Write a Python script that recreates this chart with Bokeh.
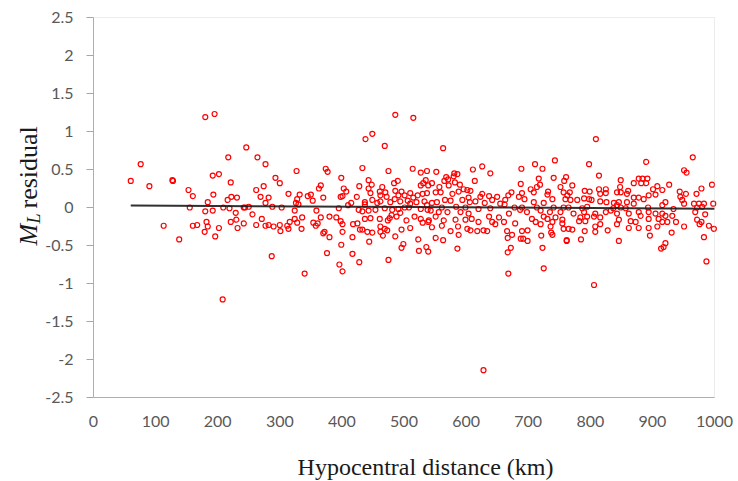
import math
from bokeh.plotting import figure
from bokeh.models import Range1d, FixedTicker, BoxAnnotation
from bokeh.core.properties import value
from bokeh.embed import file_html
from bokeh.resources import INLINE

# ---------------- data ----------------
distance_km = [
    # 60-210 km
    180, 195, 76, 60, 90, 127, 128, 192, 202, 153, 160, 193, 184, 155, 180, 192, 113, 160, 167, 182,
    184, 202, 179, 196, 138, 208,
    # 205-395 km
    246, 217, 264, 277, 221, 216, 222, 231, 262, 274, 293, 300, 269, 282, 277, 327, 314, 332, 328, 326,
    330, 345, 350, 353, 363, 366, 370, 374, 377, 209, 219, 242, 244, 250, 229, 256, 288, 303, 324, 359,
    395, 221, 230, 232, 242, 262, 271, 277, 282, 290, 300, 301, 312, 314, 316, 324, 328, 335, 336, 354,
    358, 361, 366, 370, 372, 380, 380, 391, 287, 340, 376, 396,
    # 380-590 km outliers
    486, 515, 438, 449, 469, 563, 433, 399, 475, 514, 537, 552, 527,
    401, 428, 417, 475, 399, 444, 417, 496, 499, 524, 536, 539, 523, 551, 563, 586, 486, 466, 401,
    # 395-540 km band
    443, 448, 403, 407, 428, 465, 484, 490, 531, 535, 527, 398, 401, 424, 443, 446, 461, 462, 470, 472,
    486, 491, 496, 501, 510, 515, 522, 530, 537, 415, 410, 437, 437, 449, 457, 462, 478, 485, 494, 506,
    510, 520, 533, 427, 433, 443, 454, 469, 481, 491, 501, 508, 527, 538, 398, 401, 437, 446, 461, 474,
    477, 480, 488, 494, 504, 517, 527, 530, 539, 418, 425, 429, 433, 441, 449, 462, 462, 469, 473, 496,
    510,
    # 535-690 km
    626, 611, 639, 689, 586, 580, 568, 571, 565, 614, 582, 545, 539, 557, 572, 590, 602, 596, 588, 607,
    551, 559, 578, 688, 690, 685, 673, 668, 637, 626, 623, 650, 663, 642, 630, 655, 662, 566, 575, 594,
    604, 606, 615, 553, 545, 537, 561, 584, 599, 620, 639, 678, 690, 687, 543, 556, 570, 591, 604, 637,
    653, 669, 551, 540, 564, 583, 599, 609, 620, 642, 661, 647, 679, 561, 545, 575, 587, 602, 607, 618,
    628, 634, 666, 674, 690, 588, 667, 688, 667, 672, 668, 628, 581,
    # 690-850 km
    711, 723, 743, 798, 814, 741, 761, 758, 771, 752, 717, 719, 714, 704, 709, 732, 731, 757, 763, 767,
    760, 768, 791, 799, 814, 825, 816, 825, 843, 848, 790, 798, 802, 779, 739, 694, 709, 725, 816, 826,
    838, 843, 714, 741, 757, 765, 787, 795, 837, 698, 720, 735, 752, 773, 790, 808, 825, 833, 706, 725,
    731, 744, 755, 784, 795, 806, 816, 712, 739, 755, 782, 792, 816, 808, 846, 720, 736, 757, 765, 771,
    828, 699, 737, 739, 791, 808, 692, 699, 721, 762, 762, 785, 846, 723, 725, 809, 806,
    # 840-1000 km
    890, 951, 955, 849, 870, 878, 884, 892, 882, 890, 908, 927, 996, 849, 861, 901, 916, 944, 954, 971,
    979, 859, 894, 905, 945, 870, 878, 886, 948, 859, 846, 921, 916, 951, 967, 975, 983, 998, 870, 893,
    857, 972, 980, 849, 934, 862, 878, 894, 905, 916, 921, 881, 932, 969, 985, 843, 865, 873, 894, 910,
    916, 924, 938, 972, 979, 976, 991, 999, 843, 862, 878, 894, 908, 951, 931, 896, 983, 921, 918, 914,
    987, 965,
]

residual = [
    # 60-210 km
    1.19, 1.23, 0.57, 0.35, 0.28, 0.36, 0.35, 0.42, 0.44, 0.23, 0.15, 0.17, 0.07, 0.00, -0.05, -0.04, -0.24, -0.24, -0.23, -0.19,
    -0.25, -0.27, -0.32, -0.38, -0.42, -1.21,
    # 205-395 km
    0.79, 0.66, 0.66, 0.57, 0.33, 0.10, 0.14, 0.13, 0.23, 0.28, 0.39, 0.32, 0.14, 0.13, 0.06, 0.48, 0.18, 0.17, 0.11, 0.06,
    0.04, 0.15, 0.17, 0.09, 0.25, 0.29, 0.13, 0.51, 0.47, 0.00, -0.01, 0.00, 0.00, 0.01, -0.07, -0.09, 0.01, 0.00, -0.04, -0.04,
    -0.01, -0.19, -0.16, -0.27, -0.21, -0.23, -0.15, -0.24, -0.23, -0.25, -0.23, -0.31, -0.24, -0.28, -0.19, -0.15, -0.20, -0.28, -0.13, -0.20,
    -0.24, -0.21, -0.13, -0.34, -0.32, -0.39, -0.12, -0.13, -0.64, -0.87, -0.60, -0.75,
    # 380-590 km outliers
    1.22, 1.18, 0.90, 0.97, 0.81, 0.78, 0.52, 0.39, 0.48, 0.51, 0.48, 0.47, 0.46,
    -0.84, -0.72, -0.61, -0.69, -0.49, -0.45, -0.39, -0.53, -0.48, -0.57, -0.52, -0.58, -0.42, -0.40, -0.43, -0.54, -0.38, -0.37, -0.32,
    # 395-540 km band
    0.36, 0.30, 0.25, 0.21, 0.28, 0.27, 0.32, 0.35, 0.32, 0.36, 0.29, 0.14, 0.15, 0.14, 0.25, 0.19, 0.21, 0.16, 0.20, 0.14,
    0.22, 0.16, 0.21, 0.16, 0.19, 0.13, 0.16, 0.18, 0.19, 0.06, 0.03, 0.07, 0.04, 0.10, 0.06, 0.08, 0.07, 0.11, 0.08, 0.09,
    0.05, 0.07, 0.08, -0.03, -0.05, -0.04, -0.03, -0.01, -0.03, -0.02, 0.00, 0.00, -0.02, -0.03, -0.18, -0.22, -0.15, -0.14, -0.15, -0.17,
    -0.14, -0.10, -0.12, -0.07, -0.17, -0.12, -0.15, -0.20, -0.19, -0.22, -0.21, -0.29, -0.29, -0.32, -0.33, -0.25, -0.32, -0.28, -0.30, -0.29,
    -0.27,
    # 535-690 km
    0.54, 0.50, 0.45, 0.51, 0.44, 0.41, 0.40, 0.37, 0.35, 0.35, 0.33, 0.32, 0.29, 0.27, 0.29, 0.30, 0.23, 0.24, 0.21, 0.22,
    0.20, 0.20, 0.18, 0.31, 0.19, 0.14, 0.20, 0.16, 0.15, 0.18, 0.14, 0.14, 0.10, 0.10, 0.06, 0.05, 0.04, 0.10, 0.09, 0.10,
    0.13, 0.07, 0.08, 0.07, 0.06, 0.03, 0.00, 0.01, 0.00, -0.02, -0.01, 0.00, 0.00, -0.03, -0.04, -0.06, -0.06, -0.06, -0.08, -0.12,
    -0.13, -0.08, -0.12, -0.17, -0.17, -0.16, -0.16, -0.15, -0.19, -0.19, -0.19, -0.22, -0.21, -0.24, -0.26, -0.31, -0.25, -0.28, -0.30, -0.31,
    -0.30, -0.31, -0.31, -0.36, -0.31, -0.36, -0.40, -0.41, -0.59, -0.53, -0.87, -2.14, 0.45,
    # 690-850 km
    0.57, 0.51, 0.62, 0.57, 0.42, 0.39, 0.40, 0.35, 0.29, 0.27, 0.38, 0.30, 0.27, 0.24, 0.20, 0.21, 0.17, 0.20, 0.16, 0.20,
    0.11, 0.10, 0.22, 0.21, 0.24, 0.24, 0.18, 0.19, 0.20, 0.27, 0.12, 0.11, 0.10, 0.10, 0.11, 0.11, 0.07, 0.06, 0.08, 0.07,
    0.06, 0.03, 0.00, 0.00, 0.00, 0.00, -0.01, 0.01, -0.01, -0.06, -0.04, -0.06, -0.06, -0.08, -0.06, -0.08, -0.06, -0.04, -0.15, -0.12,
    -0.15, -0.13, -0.16, -0.13, -0.12, -0.12, -0.13, -0.19, -0.19, -0.21, -0.18, -0.18, -0.22, -0.25, -0.16, -0.22, -0.25, -0.28, -0.28, -0.29,
    -0.30, -0.30, -0.33, -0.36, -0.31, -0.32, -0.41, -0.44, -0.37, -0.43, -0.44, -0.42, -0.44, -0.53, -0.80, 0.90, -1.02,
    # 840-1000 km
    0.60, 0.49, 0.46, 0.36, 0.32, 0.38, 0.38, 0.38, 0.32, 0.32, 0.28, 0.30, 0.30, 0.20, 0.22, 0.24, 0.23, 0.21, 0.18, 0.18,
    0.25, 0.18, 0.16, 0.17, 0.14, 0.13, 0.13, 0.11, 0.10, 0.07, 0.07, 0.07, 0.03, 0.05, 0.05, 0.05, 0.05, 0.05, 0.05, 0.00,
    -0.01, 0.00, 0.01, 0.00, -0.02, -0.08, -0.06, -0.06, -0.08, -0.08, -0.11, -0.11, -0.11, -0.06, -0.09, -0.08, -0.18, -0.19, -0.15, -0.15,
    -0.19, -0.19, -0.19, -0.16, -0.19, -0.22, -0.24, -0.28, -0.22, -0.27, -0.27, -0.27, -0.25, -0.25, -0.33, -0.37, -0.39, -0.47, -0.52, -0.54,
    -0.71, 0.66,
]

trend_x = [60, 1000]
trend_y = [0.025, -0.015]

x_ticks = [0, 100, 200, 300, 400, 500, 600, 700, 800, 900, 1000]
x_tick_labels = ["0", "100", "200", "300", "400", "500", "600", "700", "800", "900", "1000"]
y_ticks = [-2.5, -2, -1.5, -1, -0.5, 0, 0.5, 1, 1.5, 2, 2.5]
y_tick_labels = ["-2.5", "-2", "-1.5", "-1", "-0.5", "0", "0.5", "1", "1.5", "2", "2.5"]

x_title = "Hypocentral distance (km)"
y_title_main = "M"
y_title_sub = "L"
y_title_rest = "residual"

n = min(len(distance_km), len(residual))
distance_km = distance_km[:n]
residual = residual[:n]

# ---------------- pixel layout of the plot area ----------------
W, H = 738, 481
X_MIN, X_MAX = x_ticks[0], x_ticks[-1]
Y_MIN, Y_MAX = y_ticks[0], y_ticks[-1]
AREA_L, AREA_R, AREA_T, AREA_B = 93, 714, 17, 397          # plot-area box in pixels
kx = (AREA_R - AREA_L) / (X_MAX - X_MIN)                   # px per km
ky = (AREA_B - AREA_T) / (Y_MAX - Y_MIN)                   # px per unit


def px_to_x(px):
    return X_MIN + (px - AREA_L) / kx


def py_to_y(py):
    return Y_MAX - (py - AREA_T) / ky


p = figure(width=W, height=H, output_backend="svg", toolbar_location=None,
           x_range=Range1d(px_to_x(0), px_to_x(W)), y_range=Range1d(py_to_y(H), py_to_y(0)),
           min_border=0)
p.xgrid.visible = False
p.ygrid.visible = False
p.outline_line_color = None
p.background_fill_color = "white"
p.border_fill_color = "white"

# plot-area box
p.add_layout(BoxAnnotation(left=X_MIN, right=X_MAX, bottom=Y_MIN, top=Y_MAX,
                           fill_alpha=0, line_color="#bfbfbf", line_width=1))

p.scatter(distance_km, residual, marker="circle", size=5, fill_color=None,
          line_color="#ff0000", line_width=1.2)
p.line(trend_x, trend_y, line_color="#1a1a1a", line_width=2, line_alpha=0.9)

tick_font = "Lato"
p.xaxis[0].fixed_location = Y_MIN
p.xaxis[0].bounds = (X_MIN, X_MAX)
p.yaxis[0].fixed_location = X_MIN
p.yaxis[0].bounds = (Y_MIN, Y_MAX)
for ax, ticks, labels in ((p.xaxis[0], x_ticks, x_tick_labels), (p.yaxis[0], y_ticks, y_tick_labels)):
    ax.ticker = FixedTicker(ticks=ticks)
    ax.major_label_overrides = {t: l for t, l in zip(ticks, labels)}
    ax.minor_tick_line_color = None
    ax.axis_line_color = "#a6a6a6"
    ax.major_tick_line_color = "#a6a6a6"
    ax.major_tick_in = 0
    ax.major_label_text_font = tick_font
    ax.major_label_text_font_size = "16px"
    ax.major_label_text_color = "#595959"

p.xaxis[0].major_tick_out = 0
p.xaxis[0].major_label_standoff = 18
p.yaxis[0].major_tick_out = 7
p.yaxis[0].major_label_standoff = 13

# ---------------- axis titles ----------------
title_color = "#1a1a1a"
serif = "Liberation Serif"
rot = math.pi / 2
p.text(x=[px_to_x(28)], y=[py_to_y(245)], text=[y_title_main], angle=rot,
       text_font=value(serif), text_font_style="italic", text_font_size="26px",
       text_align="left", text_baseline="alphabetic", text_color=title_color)
p.text(x=[px_to_x(33)], y=[py_to_y(223)], text=[y_title_sub], angle=rot,
       text_font=value(serif), text_font_style="italic", text_font_size="18px",
       text_align="left", text_baseline="alphabetic", text_color=title_color)
p.text(x=[px_to_x(28)], y=[py_to_y(208)], text=[y_title_rest], angle=rot,
       text_font=value(serif), text_font_size="26px",
       text_align="left", text_baseline="alphabetic", text_color=title_color)
p.text(x=[px_to_x(425)], y=[py_to_y(466)], text=[x_title],
       text_font=value(serif), text_font_size="24px",
       text_align="center", text_baseline="middle", text_color=title_color)

open("out.html", "w").write(file_html(p, INLINE))
